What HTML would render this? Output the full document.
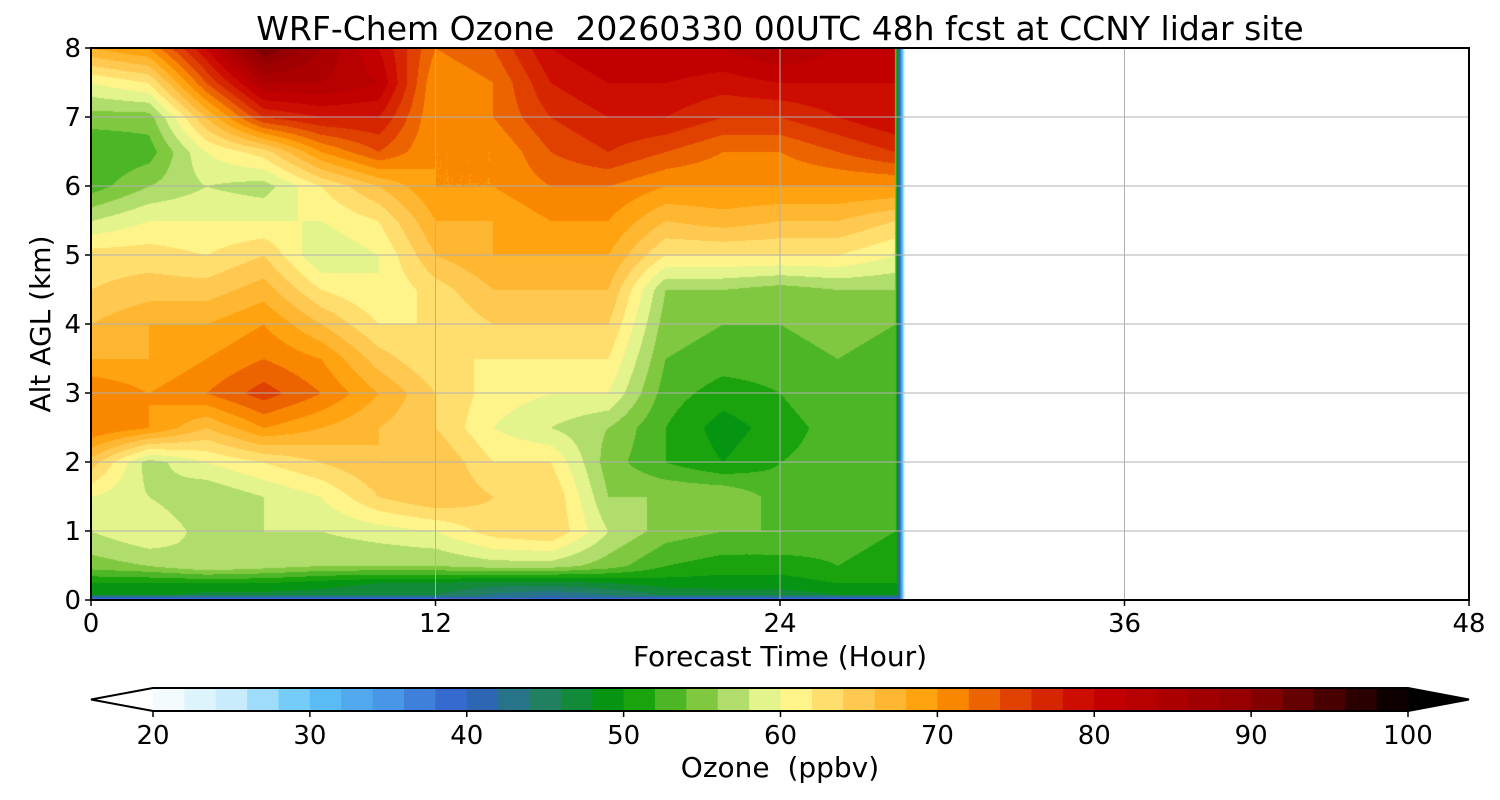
<!DOCTYPE html>
<html><head><meta charset="utf-8"><style>
body{margin:0;background:#fff;width:1500px;height:800px;overflow:hidden;font-family:"DejaVu Sans","Liberation Sans",sans-serif}
#wrap{position:relative;width:1500px;height:800px}
canvas{position:absolute;left:91px;top:48px}
svg{position:absolute;left:0;top:0;font-family:"DejaVu Sans","Liberation Sans",sans-serif}
text{white-space:pre}
</style></head><body>
<div id="wrap">
<canvas id="cv" width="1378" height="552"></canvas>
<svg id="sv" width="1500" height="800"></svg>
</div>
<script>
const hours=[0,2,4,6,8,10,12,14,16,18,20,22,24,26,28];
const alts=[0,0.25,0.5,1,1.5,2,2.5,3,3.5,4,4.5,5,5.5,6,6.5,7,7.5,8];
const ozone=[
[50,50,55,58,60,65,72,72,68,66,64,63,58,53,52,55,60,68],
[48,50,56,60,58,57,70,70,68,68,65,63,60,56,53,55,62,70],
[46,50,58,57,56,60,66,72,70,68,65,62,60,58,60,66,74,80],
[46,50,57,58,58,62,70,75,72,70,67,64,60,57,63,76,84,92],
[46,49,56,58,60,64,68,72,70,66,62,58,60,62,70,78,84,86],
[45,48,56,59,64,66,66,68,65,62,60,60,62,66,74,78,82,80],
[45,48,56,60,66,66,64,64,62,62,63,66,68,70,70,70,70,72],
[42,47,57,63,64,62,60,61,62,64,66,68,68,70,70,72,72,74],
[40,47,57,64,64,62,58,60,62,64,66,68,70,72,74,76,78,80],
[42,48,55,58,56,55,56,60,62,64,66,68,70,72,76,78,80,82],
[45,49,52,55,56,52,52,53,54,55,56,62,66,70,74,78,80,82],
[46,49,51,54,56,50,49,51,53,54,56,62,67,70,72,76,79,82],
[46,49,51,54,53,52,51,52,53,54,55,62,66,70,72,76,80,84],
[47,50,52,53,53,53,53,54,54,55,56,62,66,70,74,78,80,82],
[49,50,51,52,53,53,53,53,53,54,56,60,64,70,76,80,80,80]];
const xTicks=[0,12,24,36,48];
const yTicks=[0,1,2,3,4,5,6,7,8];
const cbTicks=[20,30,40,50,60,70,80,90,100];
const endHour=28.35;

const stops=[[20,[255,255,255]],[25,[200,236,252]],[30,[96,196,248]],[35,[72,150,230]],[40,[48,96,200]],[45,[32,128,96]],[50,[0,154,0]],[55,[128,200,64]],[58,[200,232,128]],[60,[255,255,153]],[65,[255,200,80]],[70,[255,154,0]],[75,[224,64,0]],[80,[200,0,0]],[90,[144,0,0]],[100,[0,0,0]]];
function cmap(v){v=Math.max(20,Math.min(100,v));for(let i=1;i<stops.length;i++){if(v<=stops[i][0]){const a=stops[i-1],b=stops[i],t=(v-a[0])/(b[0]-a[0]);return a[1].map((c,k)=>Math.round(c+(b[1][k]-c)*t));}}return [0,0,0];}
const X0=91,X1=1469,Y0=600,Y1=48;
const xs=h=>X0+(X1-X0)*h/48, ys=a=>Y0-(Y0-Y1)*a/8;
function idx(arr,v){for(let i=0;i<arr.length-1;i++)if(v<=arr[i+1])return i;return arr.length-2;}
function val(h,a){const i=idx(hours,h),j=idx(alts,a);const tx=Math.max(0,Math.min(1,(h-hours[i])/(hours[i+1]-hours[i]))),ty=Math.max(0,Math.min(1,(a-alts[j])/(alts[j+1]-alts[j])));
return ozone[i][j]*(1-tx)*(1-ty)+ozone[i+1][j]*tx*(1-ty)+ozone[i][j+1]*(1-tx)*ty+ozone[i+1][j+1]*tx*ty;}
const cv=document.getElementById('cv'),ctx=cv.getContext('2d');
const W=cv.width,H=cv.height,img=ctx.createImageData(W,H);
const xEnd=xs(endHour)-X0;
for(let py=0;py<H;py++){const a=(H-py)/H*8;for(let px=0;px<W;px++){const o=(py*W+px)*4;let c=[255,255,255];
if(px<xEnd){let v=Math.floor(val(Math.min(28,px/(X1-X0)*48),a)/2)*2+1;const d=xEnd-px;if(d<10)v=Math.min(v,20+d*3.5);if(H-py<6)v=Math.min(v,35+(H-py)*2);c=cmap(v);}
img.data[o]=c[0];img.data[o+1]=c[1];img.data[o+2]=c[2];img.data[o+3]=255;}}
ctx.putImageData(img,0,0);

const sv=document.getElementById('sv');const NS='http://www.w3.org/2000/svg';
function mk(t,at,txt){const e=document.createElementNS(NS,t);for(const k in at)e.setAttribute(k,at[k]);if(txt!==undefined)e.textContent=txt;sv.appendChild(e);return e;}
xTicks.forEach(t=>{const x=xs(t);
const g=mk('line',{x1:x,x2:x,y1:Y1,y2:Y0,stroke:'#b0b0b0','stroke-width':1});


const tk=mk('line',{x1:x,x2:x,y1:Y0,y2:Y0+6,stroke:'#000','stroke-width':1.5});


const l=mk('text',{x:x,y:632,'text-anchor':'middle','font-size':26},t);

});
yTicks.forEach(t=>{const y=ys(t);
const g=mk('line',{x1:X0,x2:X1,y1:y,y2:y,stroke:'#b0b0b0','stroke-width':1});


const tk=mk('line',{x1:X0-6,x2:X0,y1:y,y2:y,stroke:'#000','stroke-width':1.5});


const l=mk('text',{x:X0-10,y:y+9,'text-anchor':'end','font-size':26},t);

});
const fr=mk('rect',{x:X0,y:Y1,width:X1-X0,height:Y0-Y1,fill:'none',stroke:'#000','stroke-width':2});


const ti=mk('text',{x:780,y:40,'text-anchor':'middle','font-size':33},'WRF-Chem Ozone  20260330 00UTC 48h fcst at CCNY lidar site');


const xt=mk('text',{x:780,y:666,'text-anchor':'middle','font-size':28},'Forecast Time (Hour)');


const yt=mk('text',{x:0,y:0,'text-anchor':'middle','font-size':28,transform:'translate(50,324) rotate(-90)'},'Alt AGL (km)');


// colorbar
const C0=153,C1=1408,CT=688,CB=711;const cx=v=>C0+(C1-C0)*(v-20)/80;
const lt=mk('polygon',{points:`${C0},${CT} 91,${(CT+CB)/2} ${C0},${CB}`,fill:'#fff'});


const rt=mk('polygon',{points:`${C1},${CT} 1469,${(CT+CB)/2} ${C1},${CB}`,fill:'#000'});


for(let v=20;v<100;v+=2){const c=cmap(v+1);
const r=mk('rect',{x:cx(v),y:CT,width:cx(v+2)-cx(v)+0.6,height:CB-CT,fill:`rgb(${c})`});

}
const ol=mk('polygon',{points:`${C0},${CT} ${C1},${CT} 1469,${(CT+CB)/2} ${C1},${CB} ${C0},${CB} 91,${(CT+CB)/2}`,fill:'none',stroke:'#000','stroke-width':2});


cbTicks.forEach(t=>{const x=cx(t);
const tk=mk('line',{x1:x,x2:x,y1:CB,y2:CB+6,stroke:'#000','stroke-width':1.5});


const l=mk('text',{x:x,y:744,'text-anchor':'middle','font-size':26},t);

});
const ct=mk('text',{x:780,y:777,'text-anchor':'middle','font-size':28},'Ozone  (ppbv)');


</script>
</body></html>
